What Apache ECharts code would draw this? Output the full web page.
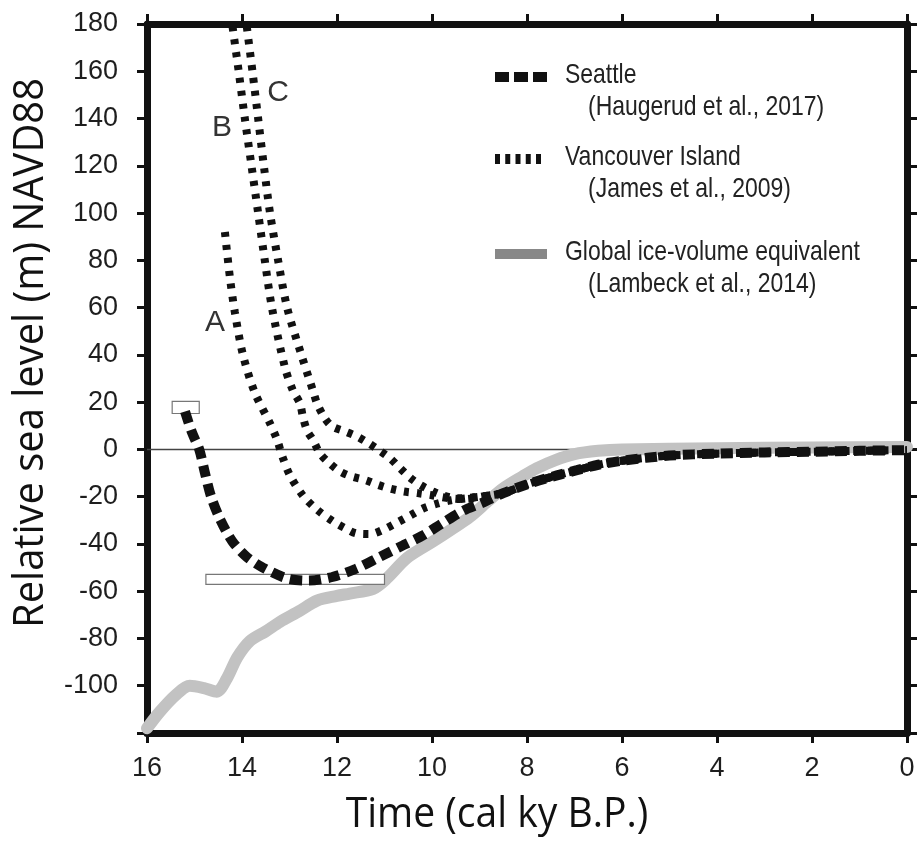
<!DOCTYPE html>
<html>
<head>
<meta charset="utf-8">
<title>Relative sea level</title>
<script src="https://cdn.jsdelivr.net/npm/echarts@6/dist/echarts.min.js"></script>
<style>
  html, body { margin: 0; padding: 0; background: #fff; }
  #main { width: 918px; height: 845px; }
</style>
</head>
<body>
<div id="main"></div>
<script>
// time (cal ky B.P.), relative sea level (m)
var seattle = [
  [15.2, 16], [15.05, 7], [14.9, 0], [14.78, -10], [14.65, -20], [14.45, -30], [14.2, -39],
  [13.9, -45.5], [13.56, -50], [13.05, -54.6], [12.6, -55.5], [12.1, -54], [11.6, -50.5],
  [11.1, -45.5], [10.6, -40.5], [10.2, -36.5], [9.8, -31.5], [9.35, -26], [8.93, -22.5],
  [8.5, -18.5], [7.94, -14.4], [7.37, -11], [6.95, -8.8], [6.5, -6.5], [6, -4.8], [5, -2.6],
  [4, -1.8], [3, -1.3], [2, -1], [1, -0.6], [0, -0.3]
];
var vancouverA = [
  [14.36, 92], [14.25, 72], [14.15, 58], [13.98, 40], [13.73, 24], [13.41, 11], [13.26, 4],
  [13.15, -3], [12.99, -11], [12.72, -19.5], [12.42, -25.5], [12.08, -30.5], [11.79, -33.8],
  [11.58, -35.6], [11.3, -35.8], [11.03, -34], [10.74, -31], [10.46, -28], [10.19, -25],
  [9.9, -23], [9.6, -21.5], [9.2, -20.5], [8.8, -19.5], [8.5, -18.5], [7.94, -14.4],
  [7.37, -11], [6.95, -8.8], [6.5, -6.5], [6, -4.8], [5, -2.6], [4, -1.8], [3, -1.3],
  [2, -1], [1, -0.6], [0, -0.3]
];
var vancouverB = [
  [14.2, 179], [14.07, 160], [13.94, 140], [13.8, 120], [13.66, 100], [13.52, 80], [13.37, 60],
  [13.1, 35], [12.93, 25], [12.78, 19.5], [12.72, 14], [12.63, 8], [12.5, 3.8], [12.36, -1.7],
  [12.15, -6], [11.94, -9.3], [11.7, -11.4], [11.4, -13], [11.14, -15], [10.9, -16.5],
  [10.6, -17.8], [10.3, -18.5], [10.0, -19.4], [9.7, -20.5], [9.3, -21], [8.9, -19.8], [8.5, -18.5],
  [7.94, -14.4], [7.37, -11], [6.95, -8.8], [6.5, -6.5], [6, -4.8], [5, -2.6], [4, -1.8],
  [3, -1.3], [2, -1], [1, -0.6], [0, -0.3]
];
var vancouverC = [
  [13.9, 179], [13.78, 160], [13.66, 140], [13.54, 120], [13.41, 100], [13.24, 80], [13.05, 60],
  [12.75, 40], [12.5, 24.5], [12.42, 19.5], [12.25, 13], [12.1, 9.7], [11.83, 7.6], [11.58, 5.5],
  [11.35, 2.8], [11.14, 0], [10.88, -3.8], [10.67, -8], [10.46, -12], [10.25, -15],
  [9.98, -17.8], [9.77, -19.5], [9.47, -20.7], [9.2, -20.5], [8.9, -19.8], [8.5, -18.5],
  [7.94, -14.4], [7.37, -11], [6.95, -8.8], [6.5, -6.5], [6, -4.8], [5, -2.6], [4, -1.8],
  [3, -1.3], [2, -1], [1, -0.6], [0, -0.3]
];
var globalIce = [
  [16, -118], [15.73, -111], [15.4, -104], [15.1, -100], [14.8, -101], [14.53, -102.5],
  [14.32, -97], [14.1, -88], [13.83, -81], [13.5, -77], [13.2, -73], [12.8, -68.5],
  [12.42, -64], [12.0, -62], [11.73, -61], [11.24, -59], [10.95, -54.6], [10.53, -46],
  [9.98, -39], [9.6, -34], [9.2, -28.5], [8.8, -21.5], [8.5, -16.5], [8.1, -11.5], [7.8, -8],
  [7.4, -4.5], [7.0, -2], [6.5, -0.6], [6, 0], [4, 0.5], [2, 0.8], [0, 1]
];
// error boxes: [time1, level1, time2, level2]
var boxes = [[15.47, 20.3, 14.9, 15.2], [14.76, -52.9, 11.0, -57.1]];
var zeroLine = [[16, 0], [0, 0]];
var curveLabels = [
  { name: 'A', value: [14.57, 53.7] },
  { name: 'B', value: [14.42, 136.3] },
  { name: 'C', value: [13.24, 151] }
];
var legendNames = ['Seattle', 'Vancouver Island', 'Global ice-volume equivalent'];
var legendRefs = ['(Haugerud et al., 2017)', '(James et al., 2009)', '(Lambeck et al., 2014)'];
var xName = 'Time (cal ky B.P.)';
var yName = 'Relative sea level (m) NAVD88';

var myChart = echarts.init(document.getElementById('main'));

var tickFont = { fontFamily: 'Liberation Sans', fontSize: 27, color: '#1e1e1e' };
var frameLine = { onZero: false, lineStyle: { color: '#111', width: 7 } };
var tickStyle = { show: true, inside: false, length: 10, lineStyle: { color: '#111', width: 3 } };

function axisX(pos, labels) {
  return {
    type: 'value', position: pos, inverse: true, min: 0, max: 16, interval: 2,
    axisLine: frameLine, axisTick: tickStyle, splitLine: { show: false },
    axisLabel: Object.assign({ show: labels, margin: 22 }, tickFont)
  };
}
function axisY(pos, labels) {
  return {
    type: 'value', position: pos, min: -120, max: 180, interval: 20,
    axisLine: frameLine, axisTick: tickStyle, splitLine: { show: false },
    axisLabel: Object.assign({
      show: labels, margin: 29,
      formatter: function (v) { return v === -120 ? '' : v; }
    }, tickFont)
  };
}

// legend drawn by hand (two-line entries)
var legendY = [77, 159, 254];
var legendIcons = [
  { stroke: '#111', lineDash: [14, 5], x2: 547 },
  { stroke: '#111', lineDash: [5, 5.25], x2: 541 },
  { stroke: '#888', lineDash: null, x2: 547 }
];
var legendFont = '28px "Liberation Sans"';
var graphics = [];
legendNames.forEach(function (name, i) {
  graphics.push({
    type: 'line', shape: { x1: 495, y1: legendY[i], x2: legendIcons[i].x2, y2: legendY[i] },
    style: { stroke: legendIcons[i].stroke, lineWidth: 10, lineDash: legendIcons[i].lineDash }
  });
  graphics.push({
    type: 'text', x: 565, y: legendY[i] - 2, scaleX: 0.82,
    style: { text: name, font: legendFont, fill: '#222', textAlign: 'left', textVerticalAlign: 'middle' }
  });
  graphics.push({
    type: 'text', x: 588, y: legendY[i] + 30, scaleX: 0.82,
    style: { text: legendRefs[i], font: legendFont, fill: '#222', textAlign: 'left', textVerticalAlign: 'middle' }
  });
});
graphics.push({
  type: 'text', x: 31, y: 353, rotation: Math.PI / 2, scaleX: 0.95,
  style: { text: yName, font: '42px "Open Sans"', fill: '#111', textAlign: 'center', textVerticalAlign: 'middle' }
});
graphics.push({
  type: 'text', x: 497, y: 815, scaleX: 0.93,
  style: { text: xName, font: '42px "Open Sans"', fill: '#111', textAlign: 'center', textVerticalAlign: 'middle' }
});

function curve(name, data, style, z) {
  return {
    name: name, type: 'line', data: data, xAxisIndex: 0, yAxisIndex: 0,
    showSymbol: false, symbol: 'none', smooth: 0.3, z: z, silent: true,
    lineStyle: style
  };
}

var dotted = { color: '#111', width: 8, type: [5, 8], cap: 'butt' };

myChart.setOption({
  animation: false,
  backgroundColor: '#fff',
  grid: { left: 147, right: 11, top: 24, bottom: 112 },
  xAxis: [axisX('bottom', true), axisX('top', false)],
  yAxis: [axisY('left', true), axisY('right', false)],
  graphic: graphics,
  series: [
    curve('zero', zeroLine, { color: '#444', width: 1.5 }, 1),
    curve('Global ice-volume equivalent', globalIce, { color: '#c2c2c2', width: 12, cap: 'round', join: 'round' }, 2),
    {
      type: 'custom', name: 'boxes', data: boxes, z: 3, silent: true,
      encode: { x: [0, 2], y: [1, 3] },
      renderItem: function (params, api) {
        var p1 = api.coord([api.value(0), api.value(1)]);
        var p2 = api.coord([api.value(2), api.value(3)]);
        return {
          type: 'rect',
          shape: {
            x: Math.min(p1[0], p2[0]), y: Math.min(p1[1], p2[1]),
            width: Math.abs(p2[0] - p1[0]), height: Math.abs(p2[1] - p1[1])
          },
          style: { fill: '#fff', stroke: '#777', lineWidth: 1.2 }
        };
      }
    },
    curve('Vancouver Island A', vancouverA, dotted, 4),
    curve('Vancouver Island B', vancouverB, dotted, 4),
    curve('Vancouver Island C', vancouverC, dotted, 4),
    curve('Seattle', seattle, { color: '#111', width: 10, type: [12, 7], cap: 'butt' }, 5),
    {
      type: 'scatter', name: 'labels', data: curveLabels, symbolSize: 0, z: 6, silent: true,
      label: {
        show: true, position: 'inside', formatter: '{b}',
        fontFamily: 'Liberation Sans', fontSize: 30, color: '#333',
        textBorderWidth: 0, opacity: 1
      }
    }
  ]
});
</script>
</body>
</html>
